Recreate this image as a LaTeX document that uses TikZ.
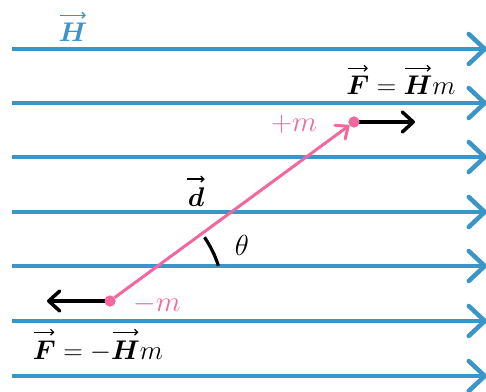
\RequirePackage{fix-cm}
\documentclass[tikz,border=0pt]{standalone}
\usepackage{amsmath,bm}
\usetikzlibrary{arrows.meta}
\definecolor{fieldblue}{HTML}{3A96C8}
\definecolor{polepink}{HTML}{F2679E}
\newcommand{\vecarrow}[2][0.8em]{\overset{\raisebox{0.12em}{\tikz[baseline=0pt]\draw[line width=1.3pt,-{Straight Barb[length=3pt,width=6pt]}](0,0)--(#1,0);}}{#2}}
\begin{document}
\begin{tikzpicture}[x=1pt,y=1pt,
  field/.style={draw=fieldblue, line width=4.5pt, -{Straight Barb[length=16pt,width=30pt,round]}},
  force/.style={draw=black, line width=3.5pt, -{Straight Barb[length=11pt,width=20pt,round]}},
  dipole/.style={draw=polepink, line width=3pt, -{Straight Barb[length=10pt,width=17pt,round]}},
  charge/.style={circle, fill=polepink, inner sep=0pt, minimum size=11pt},
  anglearc/.style={draw=black, line width=3.2pt},
  lbl/.style={inner sep=0pt, anchor=base, font=\fontsize{27}{32}\selectfont}]
\useasboundingbox (0,0) rectangle (486,391);
\foreach \i/\y in {1/342,2/288,3/234,4/179,5/125,6/70,7/15} {
  \coordinate (s\i) at (12,\y);
  \coordinate (e\i) at (487,\y);
  \draw[field] (s\i) -- (e\i);
}
\node[charge] (plus) at (354,269) {};
\node[charge] (minus) at (110,90) {};
\coordinate (fr) at (415,269);
\coordinate (fl) at (47,90);
\draw[dipole] (minus) -- (plus);
\draw[force] (plus.center) -- (fr);
\draw[force] (minus.center) -- (fl);
\node[charge] at (plus.center) {};
\node[charge] at (minus.center) {};
\draw[anglearc] ([shift={(18:114)}]minus.center) arc[start angle=18, end angle=34, radius=114];
\node[lbl, text=fieldblue] (hlab) at (73,349) {$\vecarrow[0.95em]{\bm{H}}$};
\node[lbl] (ftop) at (401,296) {$\vecarrow[0.75em]{\bm{F}}=\vecarrow[0.95em]{\bm{H}}m$};
\node[lbl] (fbot) at (98,32) {$\vecarrow[0.75em]{\bm{F}}=-\vecarrow[0.95em]{\bm{H}}m$};
\node[lbl, text=polepink, font=\fontsize{29}{32}\selectfont] (plab) at (294,259) {$+m$};
\node[lbl, text=polepink, font=\fontsize{29}{32}\selectfont] (mlab) at (157,80) {$-m$};
\node[lbl] (dlab) at (196,185) {$\vecarrow[0.65em]{\bm{d}}$};
\node[lbl, font=\fontsize{29}{32}\selectfont] (tlab) at (242,136) {$\theta$};
\end{tikzpicture}
\end{document}
